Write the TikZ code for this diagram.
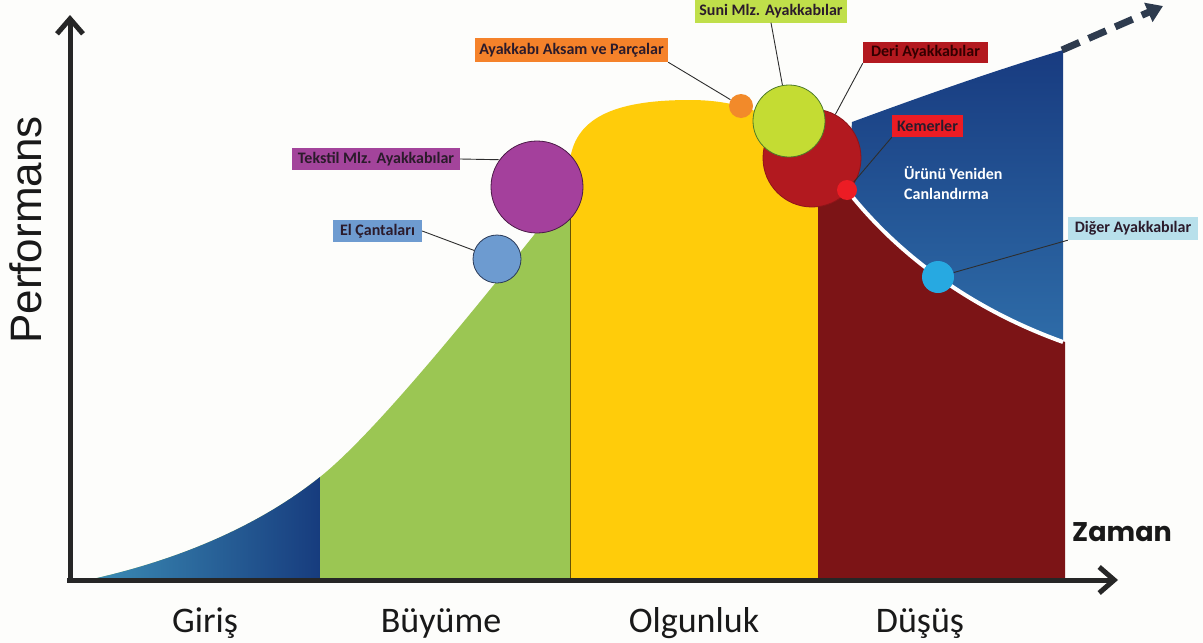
\documentclass[tikz,border=0pt]{standalone}
\usepackage{fontspec}
\setmainfont{Carlito}
\newfontfamily\arialf{Liberation Sans}
\newfontfamily\zf{Poppins}
\usetikzlibrary{arrows.meta}
\definecolor{bgc}{HTML}{FDFDFB}
\definecolor{axisc}{HTML}{262626}
\definecolor{greenc}{HTML}{9BC653}
\definecolor{yellowc}{HTML}{FFCC0A}
\definecolor{darkredc}{HTML}{7C1416}
\definecolor{tealc}{HTML}{3C8EB6}
\definecolor{navyc}{HTML}{173C7E}
\definecolor{navytop}{HTML}{183B80}
\definecolor{navybot}{HTML}{2E6CA8}
\definecolor{purplec}{HTML}{A4409C}
\definecolor{purplee}{HTML}{4A1A46}
\definecolor{elc}{HTML}{6D9BD0}
\definecolor{ele}{HTML}{2A3A58}
\definecolor{orangec}{HTML}{F28A2A}
\definecolor{redc}{HTML}{B2191F}
\definecolor{limec}{HTML}{C4DC33}
\definecolor{limee}{HTML}{4D7A2A}
\definecolor{kemc}{HTML}{EC1C24}
\definecolor{digc}{HTML}{27A9E1}
\definecolor{boxorange}{HTML}{F5822A}
\definecolor{boxlime}{HTML}{C0DF4A}
\definecolor{boxderi}{HTML}{B3191F}
\definecolor{boxkem}{HTML}{EC1C24}
\definecolor{boxdig}{HTML}{B8E0EB}
\definecolor{boxtek}{HTML}{A3449B}
\definecolor{boxel}{HTML}{6E9BD0}
\definecolor{labtext}{HTML}{2B1B2B}
\definecolor{conc}{HTML}{2E2E2E}
\definecolor{trendc}{HTML}{2E3B4E}
\begin{document}
\begin{tikzpicture}[x=1pt,y=-1pt,
  lbl/.style={inner sep=0pt, minimum height=23pt, align=center,
    font=\fontsize{16}{18}\selectfont\bfseries, text=labtext},
  conn/.style={draw=conc, line width=0.9pt},
  dot/.style={circle, inner sep=0pt, line width=0.8pt},
  stage/.style={anchor=base, font=\fontsize{36}{40}\selectfont, text=black!90},
  axisline/.style={draw=axisc, line width=5pt, -{Straight Barb[length=15pt,width=26pt]}},
  trend/.style={draw=trendc, line width=7pt, dash pattern=on 19pt off 10pt,
    -{Triangle[length=16pt,width=20pt]}}]
\useasboundingbox (0,0) rectangle (1203,643);
\fill[bgc] (0,0) rectangle (1203,643);

% green (growth) area under the curve
\fill[greenc] (88,580) .. controls (180,560) and (260,525) .. (320,477)
  .. controls (380,429) and (490,290) .. (570,190) -- (570,580) -- cycle;
% introduction area
\shade[left color=tealc, right color=navyc] (88,580) .. controls (180,560) and (260,525) .. (320,477) -- (320,580) -- cycle;
% maturity
\fill[yellowc] (570,580) -- (570,160) .. controls (576,115) and (620,100) .. (690,100)
  .. controls (770,100) and (818,140) .. (818,200) -- (818,580) -- cycle;
\draw[draw=black!60!yellowc, line width=0.8pt] (570,580) -- (570,165);
% decline
\fill[darkredc] (818,580) -- (818,200) -- (847,190) .. controls (890,245) and (960,305) .. (1065,342) -- (1065,580) -- cycle;
% revitalisation
\shade[top color=navytop, bottom color=navybot] (847,190) -- (852,122) .. controls (920,97) and (990,72) .. (1063,50)
  -- (1063,342) .. controls (960,305) and (890,245) .. (847,190) -- cycle;
\draw[white, line width=4pt] (847,190) .. controls (890,245) and (960,305) .. (1063,342);

% trend arrow
\coordinate (trendstart) at (1062,50);
\coordinate (trendend) at (1163,6);
\draw[trend] (trendstart) -- (trendend);

% axes
\coordinate (O) at (70,580);
\coordinate (ytop) at (70,15);
\coordinate (xend) at (1118,580);
\coordinate (ybot) at (70,583);
\coordinate (xstart) at (67,580);
\draw[axisline] (ybot) -- (ytop);
\draw[axisline] (xstart) -- (xend);

% circles
\node[dot, fill=purplec, draw=purplee, minimum size=92pt] (purple) at (537,187) {};
\node[dot, fill=elc, draw=ele, minimum size=48pt] (elcirc) at (497,259) {};
\node[dot, fill=redc, draw=redc!80!black, minimum size=98pt] (redcirc) at (812,158) {};
\node[dot, fill=limec, draw=limee, minimum size=72pt] (lime) at (789,121) {};
\node[dot, fill=orangec, minimum size=24pt] (orangedot) at (741,106) {};
\node[dot, fill=kemc, minimum size=20pt] (kemdot) at (847,190) {};
\node[dot, fill=digc, minimum size=32pt] (digdot) at (938,277) {};

% labels
\node[lbl, fill=boxorange, minimum width=193pt, minimum height=24pt] (ayak) at (571.5,50) {Ayakkabı Aksam ve Parçalar};
\node[lbl, fill=boxlime, minimum width=152pt] (suni) at (771,11) {Suni Mlz. Ayakkabılar};
\node[lbl, fill=boxderi, minimum width=125pt, minimum height=21pt, text=black!80!red] (deri) at (925.5,52.5) {Deri Ayakkabılar};
\node[lbl, fill=boxkem, minimum width=71pt, minimum height=22pt] (kem) at (927.5,126) {Kemerler};
\node[lbl, fill=boxdig, minimum width=130pt] (dig) at (1133,228.5) {Diğer Ayakkabılar};
\node[lbl, fill=boxtek, minimum width=168pt, minimum height=22pt] (tek) at (376,159) {Tekstil Mlz. Ayakkabılar};
\node[lbl, fill=boxel, minimum width=89pt, minimum height=22pt] (el) at (377.5,231) {El Çantaları};
\node[anchor=west, align=left, inner sep=0pt, text=white,
  font=\fontsize{16}{20}\selectfont\bfseries] (urun) at (904,183) {Ürünü Yeniden\\Canlandırma};

% connectors
\draw[conn] (ayak.south east) -- (orangedot);
\draw[conn] (suni.south) -- (lime);
\draw[conn] (deri.south west) -- (redcirc);
\draw[conn] (kem.south west) -- (kemdot);
\draw[conn] (dig.south west) -- (digdot);
\draw[conn] (tek.east) -- (purple.144);
\draw[conn] (el.east) -- (elcirc);

% stage labels
\node[stage] (giris) at (205,632) {Giriş};
\node[stage] (buyume) at (441,632) {Büyüme};
\node[stage] (olgun) at (694,632) {Olgunluk};
\node[stage] (dusus) at (920,632) {Düşüş};
\node[anchor=base, font=\zf\bfseries\fontsize{27}{30}\selectfont, text=black!90] (zaman) at (1122,541) {Zaman};
\node[anchor=base, rotate=90, font=\arialf\fontsize{44}{48}\selectfont, text=black!90] (perf) at (41,230) {Performans};
\end{tikzpicture}
\end{document}
